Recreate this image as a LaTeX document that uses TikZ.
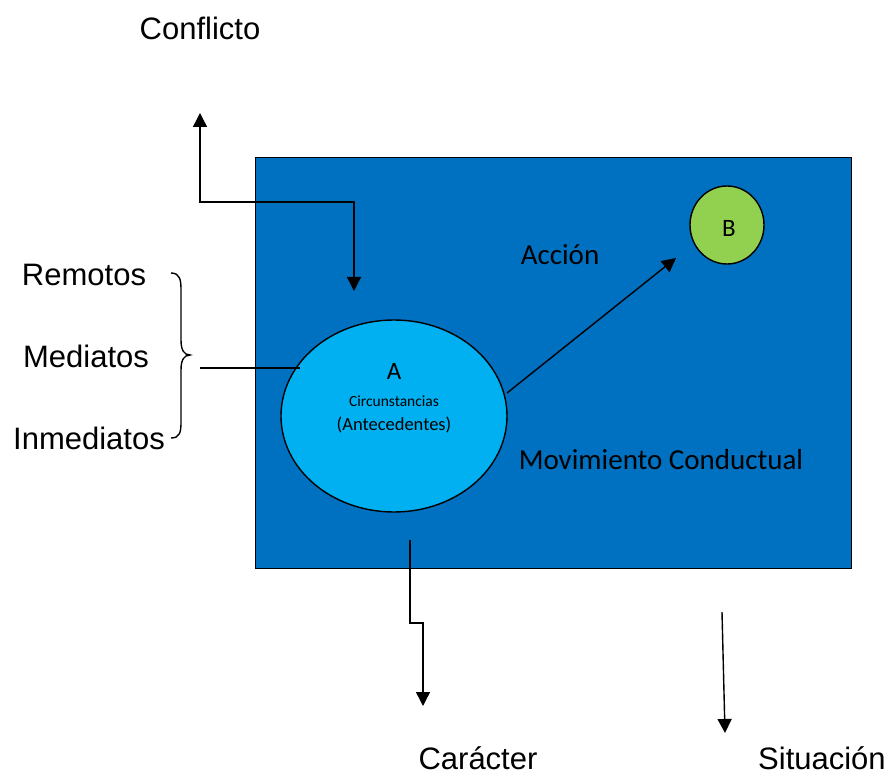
\documentclass[tikz,border=0pt]{standalone}
\usepackage{fontspec}
\setmainfont{Liberation Sans}
\newfontfamily\calfont{Carlito}
\usetikzlibrary{arrows.meta,shapes.geometric}
\definecolor{boxblue}{HTML}{0070C0}
\definecolor{ellblue}{HTML}{00B0F0}
\definecolor{bgreen}{HTML}{92D050}
\tikzset{
  conn/.style={line width=1.4pt, -{Triangle[length=14pt,width=14pt]}},
  outer/.style={font=\fontsize{31}{31}\selectfont, inner sep=0pt},
  inner/.style={inner sep=0pt},
}
\begin{document}
\begin{tikzpicture}[x=1pt,y=-1pt]
\useasboundingbox (0,0) rectangle (892,778);
\node[draw, line width=1.4pt, fill=boxblue, minimum width=596pt, minimum height=411pt, inner sep=0pt, anchor=north west] (box) at (255,157) {};
\node[ellipse, draw, line width=1.4pt, fill=ellblue, minimum width=226pt, minimum height=192pt, inner sep=0pt] (A) at (394,416) {};
\node[ellipse, draw, line width=1.4pt, fill=bgreen, minimum width=74pt, minimum height=78pt, inner sep=0pt] (B) at (727,225) {};
\node[inner, font=\calfont\fontsize{25}{25}\selectfont] (Alab) at (394,371) {A};
\node[inner, font=\calfont\fontsize{15.5}{15.5}\selectfont] (circ) at (394,401) {Circunstancias};
\node[inner, font=\calfont\fontsize{18.5}{18.5}\selectfont] (ante) at (394,425) {(Antecedentes)};
\node[inner, font=\calfont\fontsize{25}{25}\selectfont] (Blab) at (729,228) {B};
\node[inner, font=\calfont\fontsize{29}{29}\selectfont] (accion) at (560,255) {Acción};
\node[inner, font=\calfont\fontsize{29}{29}\selectfont] (mov) at (661,460) {Movimiento Conductual};
\node[outer] (confl) at (200,28) {Conflicto};
\node[outer] (rem) at (84,275) {Remotos};
\node[outer] (med) at (86,356) {Mediatos};
\node[outer] (inm) at (89,438) {Inmediatos};
\node[outer] (car) at (478,758) {Carácter};
\node[outer, anchor=west] (sit) at (758,758) {Situación};
% coordinates
\coordinate (c1) at (200,113);
\coordinate (c2) at (354,291);
\coordinate (l1) at (200,368);
\coordinate (l2) at (300,368);
\coordinate (a1) at (507,393);
\coordinate (b1) at (676,258);
\coordinate (k1) at (410,540);
\coordinate (k2) at (423,706);
\coordinate (s1) at (722,612);
\coordinate (s2) at (725,733);
% connectors
\draw[conn, {Triangle[length=14pt,width=14pt]}-{Triangle[length=14pt,width=14pt]}] (c1) |- (277,202) -| (c2);
\draw[line width=1.4pt] (l1) -- (l2);
\draw[conn] (a1) -- (b1);
\draw[conn] (k1) -- (410,623) -- (423,623) -- (k2);
\draw[conn] (s1) -- (s2);
% brace
\draw[line width=1.4pt] (171,273) .. controls (180,273) and (181,280) .. (181,290) -- (181,340) .. controls (181,350) and (184,355) .. (190,355) .. controls (184,355) and (181,360) .. (181,370) -- (181,422) .. controls (181,432) and (180,438) .. (171,438);
\end{tikzpicture}
\end{document}
